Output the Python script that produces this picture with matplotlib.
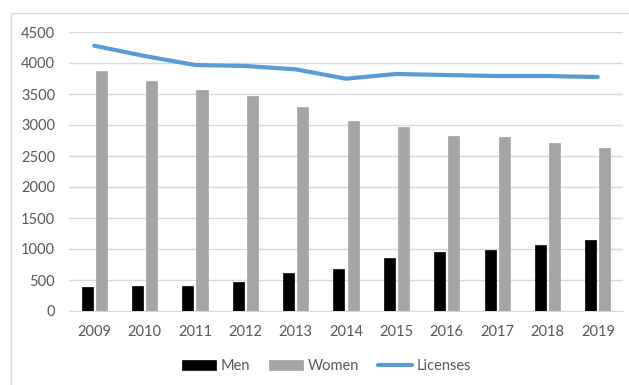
import numpy as np
import matplotlib.pyplot as plt
from matplotlib.patches import Rectangle

years = ["2009", "2010", "2011", "2012", "2013", "2014", "2015", "2016", "2017", "2018", "2019"]
men = [392, 403, 403, 468, 608, 672, 850, 957, 984, 1065, 1145]
women = [3871, 3715, 3565, 3468, 3290, 3070, 2973, 2828, 2801, 2715, 2624]
licenses = [4279, 4113, 3968, 3952, 3898, 3747, 3823, 3806, 3790, 3790, 3774]

plt.rcParams['font.family'] = ['Lato', 'DejaVu Sans']

fig = plt.figure(figsize=(6.29, 3.85), dpi=100)
fig.patches.append(Rectangle((11 / 629, -0.1), 1.2, 1 - 13 / 385 + 0.1, transform=fig.transFigure,
                             fill=False, edgecolor='#D9D9D9', linewidth=1))
ax = fig.add_axes([69 / 629, 1 - 311 / 385, (623 - 69) / 629, (311 - 32) / 385])

x = np.arange(len(years))
b1 = ax.bar(x - 0.14, men, width=0.22, color='black', edgecolor='black', linewidth=0.5, label='Men', zorder=3)
b2 = ax.bar(x + 0.14, women, width=0.22, color='#A5A5A5', edgecolor='#A5A5A5', linewidth=0.5, label='Women', zorder=3)
l1, = ax.plot(x, licenses, color='#5B9BD5', linewidth=3, label='Licenses', zorder=4, solid_capstyle='round')

ax.set_xlim(-0.5, 10.5)
ax.set_ylim(0, 4500)
ax.set_yticks(range(0, 4501, 500))
ax.set_xticks(x)
ax.set_xticklabels(years)
ax.yaxis.grid(True, color='#D9D9D9', linewidth=1)
ax.set_axisbelow(True)
for s in ['top', 'right', 'left']:
    ax.spines[s].set_visible(False)
ax.spines['bottom'].set_color('#D9D9D9')
ax.tick_params(axis='both', length=0, labelsize=10.5, labelcolor='#595959')
ax.tick_params(axis='y', pad=10)
ax.tick_params(axis='x', pad=10)

fig.legend([b1, b2, l1], ['Men', 'Women', 'Licenses'], loc='center',
           bbox_to_anchor=(327 / 629, 1 - 366 / 385), ncol=3, frameon=False,
           fontsize=10.5, labelcolor='#595959', handlelength=2.3, handleheight=0.7,
           handletextpad=0.35, columnspacing=1.3)

fig.savefig('out.png', dpi=100)
